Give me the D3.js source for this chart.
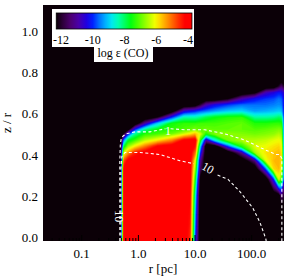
<!DOCTYPE html>
<html>
<head>
<meta charset="utf-8">
<script src="https://d3js.org/d3.v7.min.js"></script>
<style>
  body { margin: 0; background: #fff; }
  text { font-family: "Liberation Serif", "DejaVu Serif", serif; fill: #000; }
</style>
</head>
<body>
<div id="chart"></div>
<script>
// map grid: radius of each column (pc), z/r of each row (top row first)
var gridR = [0.0207, 0.40, 0.49, 0.56, 0.66, 0.87, 1.3, 2.2, 3.9, 6.4, 8.1, 10, 12.2, 15.6, 22.4, 38, 67, 114, 178, 247, 303, 334, 372];
var gridZ = [1.15, 0.79, 0.75, 0.72, 0.69, 0.66, 0.63, 0.60, 0.57, 0.54, 0.52, 0.49, 0.46, 0.43, 0.39, 0.35, 0.30, 0.22, 0.13, 0.00];

// log emissivity of CO (-13 = below colour range)
var logEps = [
  [-13,-13,-13,-13,-13,-13,-13,-13,-13,-13,-13,-13,-13,-13,-13,-13,-13,-13,-13,-13,-13,-13,-13],
  [-13,-13,-13,-13,-13,-13,-13,-13,-13,-13,-13,-13,-13,-13,-13,-13,-13,-13,-13,-13,-13,-13,-13],
  [-13,-13,-13,-13,-13,-13,-13,-13,-13,-13,-13,-13,-13,-13,-13,-13,-13,-13,-13,-12.9,-12.0,-11.5,-12.0],
  [-13,-13,-13,-13,-13,-13,-13,-13,-13,-13,-13,-13,-13,-13,-13,-13,-13,-12.5,-10.8,-10.4,-10.1,-10.2,-10.6],
  [-13,-13,-13,-13,-13,-13,-13,-13,-13,-13,-13,-13,-13,-13,-13,-12.3,-10.9,-10.2,-9.9,-9.8,-9.6,-9.7,-10.3],
  [-13,-13,-13,-13,-13,-13,-13,-13,-13,-13,-13,-12.8,-12.0,-10.9,-10.3,-9.9,-9.6,-9.6,-9.6,-9.5,-9.4,-9.5,-10.3],
  [-13,-13,-13,-13,-13,-13,-13,-13,-12.8,-10.6,-10.3,-10.1,-9.8,-9.6,-9.3,-9.0,-8.9,-9.3,-9.2,-9.1,-9.0,-9.1,-10.2],
  [-13,-13,-13,-13,-13,-13,-13,-12.2,-10.0,-8.4,-8.4,-8.4,-8.2,-7.9,-7.6,-7.4,-7.3,-8.3,-8.3,-8.2,-8.0,-8.1,-10.2],
  [-13,-13,-13,-13,-13,-13,-11.0,-9.0,-7.5,-7.3,-7.3,-7.3,-7.2,-7.2,-7.2,-7.1,-7.0,-7.4,-7.4,-7.3,-7.3,-7.4,-10.2],
  [-13,-13,-13,-13,-12.6,-10.0,-8.2,-7.5,-7.3,-7.1,-7.0,-6.8,-7.0,-6.9,-7.0,-7.0,-7.0,-7.1,-7.0,-6.9,-6.8,-6.9,-10.2],
  [-13,-13,-13,-12.0,-10.2,-8.3,-7.4,-7.2,-6.9,-6.3,-6.0,-5.6,-6.2,-7.5,-6.8,-6.7,-6.8,-6.9,-6.8,-6.7,-6.5,-6.7,-10.2],
  [-13,-13,-13,-9.5,-7.8,-7.3,-6.5,-6.0,-5.3,-4.2,-4.1,-4.0,-7.2,-11.0,-8.8,-6.9,-6.5,-6.5,-6.4,-6.2,-6.1,-6.3,-10.2],
  [-13,-13,-13,-7.8,-6.7,-6.0,-5.2,-4.2,-3.9,-3.9,-3.9,-4.3,-8.8,-13,-13,-10.0,-7.4,-6.2,-6.1,-5.9,-5.8,-6.0,-10.2],
  [-13,-13,-13,-6.3,-5.4,-4.5,-4.0,-3.9,-3.9,-3.9,-3.9,-5.0,-9.8,-13,-13,-13,-11.0,-6.6,-5.9,-5.7,-5.6,-5.9,-10.2],
  [-13,-13,-13,-4.8,-4.0,-3.9,-3.9,-3.9,-3.9,-3.9,-3.9,-6.2,-11.0,-13,-13,-13,-13,-11.3,-6.2,-5.6,-5.5,-5.9,-10.2],
  [-13,-13,-13,-4.0,-3.9,-3.9,-3.9,-3.9,-3.9,-3.9,-3.9,-6.8,-11.5,-13,-13,-13,-13,-13,-9.8,-5.8,-5.6,-6.2,-10.2],
  [-13,-13,-13,-4.0,-3.9,-3.9,-3.9,-3.9,-3.9,-3.9,-3.9,-7.6,-12.5,-13,-13,-13,-13,-13,-13,-10.0,-6.3,-7.2,-10.5],
  [-13,-13,-13,-4.0,-3.9,-3.9,-3.9,-3.9,-3.9,-3.9,-4.1,-8.7,-13,-13,-13,-13,-13,-13,-13,-13,-13,-11.5,-12.0],
  [-13,-13,-13,-4.0,-3.9,-3.9,-3.9,-3.9,-3.9,-3.9,-4.3,-9.3,-13,-13,-13,-13,-13,-13,-13,-13,-13,-13,-13],
  [-13,-13,-13,-4.0,-3.9,-3.9,-3.9,-3.9,-3.9,-3.9,-4.6,-10.0,-13,-13,-13,-13,-13,-13,-13,-13,-13,-13,-13]
];

// dashed contours (null = gap for the label)
var cont1R = [0.47, 0.47, 0.48, 0.50, 0.54, 0.60, 0.87, 1.6, 3.0, null, 3.7, 6.6, 15, 34, 76, 151, 267, 314, 341, 341];
var cont1Z = [0.00, 0.39, 0.47, 0.50, 0.51, 0.52, 0.53, 0.53, 0.545, null, 0.545, 0.54, 0.54, 0.52, 0.49, 0.45, 0.42, 0.42, 0.40, 0.00];
var cont10R = [0.49, 0.49, 0.51, 0.58, 1.07, 2.4, 5.4, 9.5, null, 25, 38, 62, 105, 140, 178, 180];
var cont10Z = [0.00, 0.35, 0.41, 0.43, 0.43, 0.42, 0.39, 0.375, null, 0.32, 0.30, 0.24, 0.16, 0.09, 0.01, 0.00];
var contLabels = [
  {text: "1", r: 3.33, z: 0.535, angle: 0},
  {text: "10", r: 16.9, z: 0.355, angle: 30},
  {text: "10", r: 0.45, z: 0.12, angle: 90}
];

var rTicks = [0.1, 1, 10, 100];
var rTickLabels = ["0.1", "1.0", "10.0", "100.0"];
var zTicks = [0, 0.2, 0.4, 0.6, 0.8, 1.0];
var zTickLabels = ["0.0", "0.2", "0.4", "0.6", "0.8", "1.0"];
var cbTicks = [-12, -10, -8, -6, -4];

// colour table (rainbow)
var cStops = [-12.3, -11.9, -11.4, -10.9, -10.4, -10.0, -9.6, -9.2, -8.8, -8.4, -8.0, -7.6, -7.2, -6.8, -6.4, -6.1, -5.8, -5.4, -5.0, -4.6, -4.2, -3.7];
var cCols = ["#0b0007", "#2c0038", "#4c0070", "#4a00a8", "#2000e0", "#0020ff", "#0070ff", "#00b0ff", "#00e8f0", "#00ffb0", "#00ff60", "#00ff10", "#40ff00", "#80ff00", "#c0ff00", "#f0ff00", "#ffd800", "#ffa000", "#ff6800", "#ff3000", "#ff0000", "#ff0000"];
var color = d3.scaleLinear().domain(cStops).range(cCols).clamp(true);

var width = 294, height = 278;
var margin = {top: 5, right: 10, bottom: 37, left: 43};

var x = d3.scaleLog().domain([0.0207, 372]).range([margin.left, width - margin.right]);
var y = d3.scaleLinear().domain([0, 1.146]).range([height - margin.bottom, margin.top]);

var svg = d3.select("#chart").append("svg")
    .attr("width", width)
    .attr("height", height);

svg.append("clipPath").attr("id", "clip")
  .append("rect")
    .attr("x", margin.left).attr("y", margin.top)
    .attr("width", x.range()[1] - margin.left)
    .attr("height", y.range()[0] - margin.top);

var plot = svg.append("g").attr("clip-path", "url(#clip)");

plot.append("rect")
    .attr("x", margin.left).attr("y", margin.top)
    .attr("width", x.range()[1] - margin.left)
    .attr("height", y.range()[0] - margin.top)
    .attr("fill", color(-12.3));

// filled map
var nx = gridR.length, ny = gridZ.length;
var values = [].concat.apply([], logEps);
var thresholds = d3.range(-12.3, -3.85, 0.1);
var contours = d3.contours().size([nx, ny]).thresholds(thresholds)(values);

var gx = d3.scaleLinear().domain(d3.range(nx)).range(gridR.map(function(r) { return x(r); }));
var gy = d3.scaleLinear().domain(d3.range(ny)).range(gridZ.map(function(z) { return y(z); }));
var proj = d3.geoTransform({
    point: function(px, py) {
        this.stream.point(
            gx(Math.max(0, Math.min(nx - 1, px - 0.5))),
            gy(Math.max(0, Math.min(ny - 1, py - 0.5))));
    }
});
var path = d3.geoPath(proj);

plot.selectAll("path.band")
    .data(contours)
    .enter().append("path")
    .attr("class", "band")
    .attr("d", path)
    .attr("fill", function(d) { return color(d.value + 0.05); })
    .attr("stroke", function(d) { return color(d.value + 0.05); })
    .attr("stroke-width", 0.3);

// dashed contour lines
var line = d3.line()
    .defined(function(d) { return d[0] != null; })
    .x(function(d) { return x(d[0]); })
    .y(function(d) { return y(d[1]); });

[[cont1R, cont1Z], [cont10R, cont10Z]].forEach(function(c) {
    plot.append("path")
        .datum(c[0].map(function(r, i) { return [r, c[1][i]]; }))
        .attr("fill", "none")
        .attr("stroke", "#fff")
        .attr("stroke-width", 1.1)
        .attr("stroke-dasharray", "3,2.5")
        .attr("d", line);
});

plot.selectAll("text.clab")
    .data(contLabels)
    .enter().append("text")
    .attr("class", "clab")
    .attr("transform", function(d) { return "translate(" + x(d.r) + "," + y(d.z) + ") rotate(" + d.angle + ")"; })
    .attr("text-anchor", "middle")
    .attr("dy", "0.35em")
    .style("fill", "#fff")
    .style("font-size", "12px")
    .text(function(d) { return d.text; });

// axis ticks (inside, black)
var minor = x.ticks().filter(function(t) { return rTicks.indexOf(t) < 0; });
var yb = y.range()[0];
svg.selectAll("line.xmaj").data(rTicks).enter().append("line")
    .attr("x1", x).attr("x2", x)
    .attr("y1", yb).attr("y2", yb - 6)
    .attr("stroke", "#000");
svg.selectAll("line.xmin").data(minor).enter().append("line")
    .attr("x1", x).attr("x2", x)
    .attr("y1", yb).attr("y2", yb - 3)
    .attr("stroke", "#000");

svg.selectAll("text.xlab").data(rTicks).enter().append("text")
    .attr("x", x).attr("y", 258)
    .attr("text-anchor", "middle")
    .style("font-size", "13px")
    .text(function(d, i) { return rTickLabels[i]; });

svg.selectAll("text.ylab").data(zTicks).enter().append("text")
    .attr("x", 38).attr("y", function(d) { return y(d) + 1; })
    .attr("text-anchor", "end")
    .style("font-size", "13px")
    .text(function(d, i) { return zTickLabels[i]; });

svg.append("text")
    .attr("x", 163).attr("y", 273)
    .attr("text-anchor", "middle")
    .style("font-size", "13px")
    .text("r [pc]");

svg.append("text")
    .attr("transform", "translate(11,123) rotate(-90)")
    .attr("text-anchor", "middle")
    .style("font-size", "13px")
    .text("z / r");

// colour bar
var cb = d3.scaleLinear().domain([-12, -4]).range([61, 188]);
var cbg = svg.append("g");
cbg.append("rect")
    .attr("x", 52).attr("y", 9).attr("width", 142).attr("height", 38)
    .attr("fill", "#fff");
cbg.append("rect")
    .attr("x", 94).attr("y", 46).attr("width", 59).attr("height", 16)
    .attr("fill", "#fff");

var grad = svg.append("defs").append("linearGradient").attr("id", "cbgrad");
grad.selectAll("stop").data(cStops).enter().append("stop")
    .attr("offset", function(d) { return (cb(d) - cb(-12.3)) / (cb(-3.75) - cb(-12.3)); })
    .attr("stop-color", function(d) { return color(d); });

cbg.append("rect")
    .attr("x", cb(-12.3)).attr("y", 13)
    .attr("width", cb(-3.75) - cb(-12.3)).attr("height", 16)
    .attr("fill", "url(#cbgrad)")
    .attr("stroke", "#000")
    .attr("stroke-width", 0.8);

cbg.selectAll("text.cbl").data(cbTicks).enter().append("text")
    .attr("x", cb).attr("y", 43.5)
    .attr("text-anchor", "middle")
    .style("font-size", "12px")
    .text(function(d) { return d; });

cbg.append("text")
    .attr("x", 123).attr("y", 57)
    .attr("text-anchor", "middle")
    .style("font-size", "12px")
    .text("log \u03b5 (CO)");
</script>
</body>
</html>
